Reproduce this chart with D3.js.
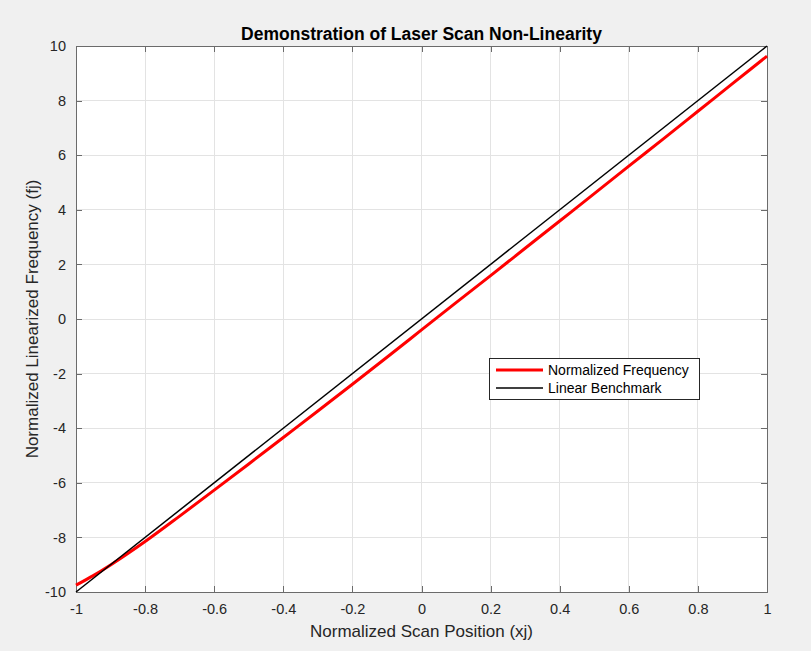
<!DOCTYPE html>
<html>
<head>
<meta charset="utf-8">
<script src="https://cdn.jsdelivr.net/npm/d3@7"></script>
<style>
html,body{margin:0;padding:0;background:#f0f0f0;}
svg{display:block;}
</style>
</head>
<body>
<svg id="chart" width="811" height="651"></svg>
<script>
const titleText = "Demonstration of Laser Scan Non-Linearity";
const xLabelText = "Normalized Scan Position (xj)";
const yLabelText = "Normalized Linearized Frequency (fj)";
const xPositions = [-1,-0.95,-0.9,-0.85,-0.8,-0.7,-0.6,-0.5,-0.4,-0.3,-0.2,-0.1,0,0.1,0.2,0.3,0.4,0.5,0.6,0.7,0.8,0.9,1];
const normalizedFrequency = [-9.75,-9.40,-9.01,-8.59,-8.15,-7.22,-6.27,-5.31,-4.34,-3.37,-2.39,-1.40,-0.40,0.60,1.59,2.59,3.59,4.59,5.60,6.60,7.61,8.62,9.63];
const benchmarkX = [-1, 1];
const benchmarkY = [-10, 10];
const xTicks = [-1,-0.8,-0.6,-0.4,-0.2,0,0.2,0.4,0.6,0.8,1];
const yTicks = [-10,-8,-6,-4,-2,0,2,4,6,8,10];
const seriesNames = ["Normalized Frequency", "Linear Benchmark"];

const svg = d3.select("#chart");
const L = 76, R = 767, T = 46, B = 592;
const x = d3.scaleLinear().domain([-1, 1]).range([L, R]);
const y = d3.scaleLinear().domain([-10, 10]).range([B, T]);
const font = "Arial, 'Liberation Sans', Helvetica, sans-serif";
const textCol = "#262626";

svg.append("rect").attr("x", L).attr("y", T).attr("width", R - L).attr("height", B - T).attr("fill", "#fff");

// grid
svg.append("g").selectAll("line").data(xTicks).join("line")
  .attr("x1", d => x(d)).attr("x2", d => x(d)).attr("y1", T).attr("y2", B)
  .attr("stroke", "#e3e3e3").attr("stroke-width", 1).attr("shape-rendering", "crispEdges");
svg.append("g").selectAll("line").data(yTicks).join("line")
  .attr("y1", d => y(d)).attr("y2", d => y(d)).attr("x1", L).attr("x2", R)
  .attr("stroke", "#e3e3e3").attr("stroke-width", 1).attr("shape-rendering", "crispEdges");

// axes
const fmt = d => String(d);
const xAxis = d3.axisBottom(x).tickValues(xTicks).tickSizeInner(-6).tickSizeOuter(0).tickPadding(12).tickFormat(fmt);
const yAxis = d3.axisLeft(y).tickValues(yTicks).tickSizeInner(-6).tickSizeOuter(0).tickPadding(10).tickFormat(fmt);
const xTop = d3.axisTop(x).tickValues(xTicks).tickSizeInner(-6).tickSizeOuter(0).tickFormat("");
const yRight = d3.axisRight(y).tickValues(yTicks).tickSizeInner(-6).tickSizeOuter(0).tickFormat("");

function styleAxis(g) {
  g.selectAll("path").attr("stroke", "#6b6b6b");
  g.selectAll("line").attr("stroke", "#6b6b6b");
  g.selectAll("text").attr("fill", textCol).style("font-family", font).style("font-size", "14.5px");
  g.attr("shape-rendering", "crispEdges");
}
svg.append("g").attr("transform", `translate(0,${B})`).call(xAxis).call(styleAxis);
svg.append("g").attr("transform", `translate(${L},0)`).call(yAxis).call(styleAxis);
svg.append("g").attr("transform", `translate(0,${T})`).call(xTop).call(styleAxis);
svg.append("g").attr("transform", `translate(${R},0)`).call(yRight).call(styleAxis);

// lines
const redData = xPositions.map((v, i) => [v, normalizedFrequency[i]]);
const blackData = benchmarkX.map((v, i) => [v, benchmarkY[i]]);
const line = d3.line().x(d => x(d[0])).y(d => y(d[1])).curve(d3.curveMonotoneX);
svg.append("path").datum(redData).attr("d", line).attr("fill", "none").attr("stroke", "#ff0000").attr("stroke-width", 3);
svg.append("path").datum(blackData).attr("d", line).attr("fill", "none").attr("stroke", "#000").attr("stroke-width", 1.5);

// title & labels
svg.append("text").attr("x", (L + R) / 2).attr("y", 40).attr("text-anchor", "middle")
  .style("font-family", font).style("font-size", "17.5px").style("font-weight", "bold").attr("fill", "#000").text(titleText);
svg.append("text").attr("x", (L + R) / 2).attr("y", 637).attr("text-anchor", "middle")
  .style("font-family", font).style("font-size", "17px").attr("fill", textCol).text(xLabelText);
svg.append("text").attr("transform", `translate(38,${(T + B) / 2}) rotate(-90)`).attr("text-anchor", "middle")
  .style("font-family", font).style("font-size", "17px").attr("fill", textCol).text(yLabelText);

// legend
const lg = svg.append("g");
lg.append("rect").attr("x", 489.5).attr("y", 358.5).attr("width", 210).attr("height", 41)
  .attr("fill", "#fff").attr("stroke", "#262626").attr("stroke-width", 1);
const legendColors = ["#ff0000", "#000"];
const legendWidths = [3, 1.5];
seriesNames.forEach((name, i) => {
  const yy = 370 + i * 18;
  lg.append("line").attr("x1", 496).attr("x2", 543).attr("y1", yy).attr("y2", yy)
    .attr("stroke", legendColors[i]).attr("stroke-width", legendWidths[i]);
  lg.append("text").attr("x", 548).attr("y", yy + 5)
    .style("font-family", font).style("font-size", "14px").attr("fill", "#000").text(name);
});
</script>
</body>
</html>
